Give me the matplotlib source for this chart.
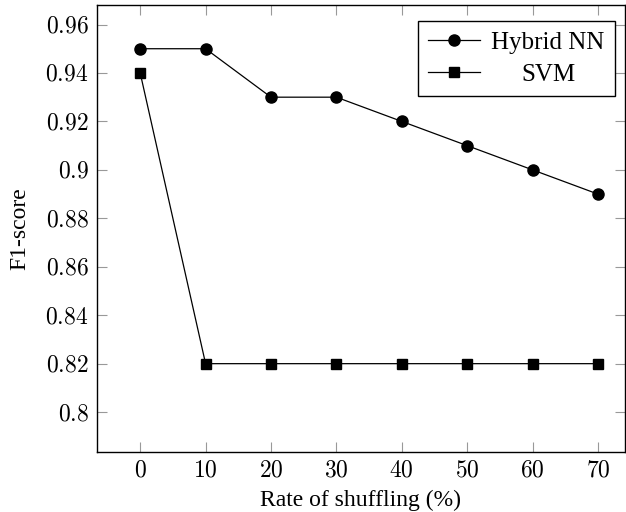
import matplotlib
matplotlib.use("Agg")
import matplotlib.pyplot as plt
from matplotlib.ticker import FuncFormatter
from matplotlib.transforms import Affine2D

plt.rcParams['font.family'] = 'serif'
plt.rcParams['font.serif'] = ['Liberation Serif', 'DejaVu Serif']
plt.rcParams['mathtext.fontset'] = 'cm'

# data
shuffle_rate = [0, 10, 20, 30, 40, 50, 60, 70]
hybrid_nn = [0.95, 0.95, 0.93, 0.93, 0.92, 0.91, 0.90, 0.89]
svm = [0.94, 0.82, 0.82, 0.82, 0.82, 0.82, 0.82, 0.82]
y_ticks = [0.80, 0.82, 0.84, 0.86, 0.88, 0.90, 0.92, 0.94, 0.96]

fig = plt.figure(figsize=(6.26, 5.12), dpi=100)
ax = fig.add_axes([0.155, 0.117, 0.843, 0.873])

ax.plot(shuffle_rate, hybrid_nn, color='black', lw=0.9, marker='o', ms=8, label='Hybrid NN')
ax.plot(shuffle_rate, svm, color='black', lw=0.9, marker='s', ms=7.5, label='SVM')

ax.set_xlim(-6.6, 74.1)
ax.set_ylim(0.7835, 0.968)
ax.set_xticks(shuffle_rate)
ax.set_yticks(y_ticks)

def fmt(v, pos):
    s = ('%.2f' % v).rstrip('0').rstrip('.')
    return '$%s$' % s

ax.xaxis.set_major_formatter(FuncFormatter(lambda v, p: '$%d$' % v))
ax.yaxis.set_major_formatter(FuncFormatter(fmt))
ax.tick_params(direction='in', length=7, width=0.8, color='#999999',
               top=True, right=True, labelsize=17, pad=6)

for sp in ax.spines.values():
    sp.set_linewidth(1.0)

ax.set_xlabel('Rate of shuffling (%)', fontsize=17, labelpad=6)
ax.set_ylabel('F1-score', fontsize=17, labelpad=11)

leg = ax.legend(loc='upper right', bbox_to_anchor=(0.981, 0.964), borderaxespad=0,
                fontsize=18, frameon=True, fancybox=False,
                edgecolor='black', framealpha=1,
                handlelength=2.1, handletextpad=0.45, labelspacing=0.4,
                borderpad=0.4)
leg.get_frame().set_linewidth(1.0)

# centre the shorter legend label in the text column (pgfplots style)
fig.canvas.draw()
texts = leg.get_texts()
r = fig.canvas.get_renderer()
widths = [t.get_window_extent(r).width for t in texts]
wmax = max(widths)
for t, w in zip(texts, widths):
    t.set_transform(t.get_transform() + Affine2D().translate((wmax - w) / 2, 0))

plt.savefig('out.png', dpi=100)
